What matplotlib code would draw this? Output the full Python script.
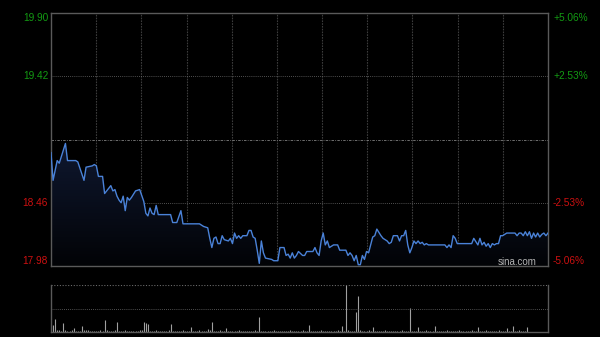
import numpy as np
import matplotlib
matplotlib.use("Agg")
import matplotlib.pyplot as plt
from matplotlib.colors import LinearSegmentedColormap

plt.rcParams['font.family'] = ['Liberation Sans', 'DejaVu Sans']

# 分时价格 (分钟序号, 价格)
minutes = [0, 1, 3, 4, 7, 8, 12, 13, 16, 17, 20, 21, 22, 23, 25, 26, 28, 29, 30, 31,
           32, 33, 34, 35, 36, 37, 38, 39, 41, 43, 45, 46, 47, 48, 49, 50, 51, 52, 58, 59,
           61, 63, 64, 72, 74, 76, 77, 78, 79, 80, 81, 82, 83, 84, 86, 87, 88, 89, 90, 91,
           92, 93, 95, 96, 97, 98, 99, 100, 101, 102, 103, 104, 107, 108, 110, 111, 113, 114, 115, 116,
           117, 118, 119, 120, 122, 123, 124, 127, 128, 129, 130, 131, 132, 133, 134, 135, 136, 137, 139, 140,
           143, 144, 145, 146, 147, 148, 149, 150, 151, 152, 153, 154, 155, 156, 157, 158, 160, 161, 163, 164,
           165, 166, 168, 169, 170, 171, 172, 173, 174, 175, 176, 177, 178, 179, 180, 181, 182, 183, 191, 192,
           193, 194, 195, 196, 197, 204, 205, 207, 208, 209, 210, 211, 212, 213, 214, 215, 216, 217, 218, 219,
           221, 225, 226, 227, 228, 229, 230, 231, 232, 233, 234, 235, 236, 237, 238, 239, 240, 241]
prices = [18.84, 18.63, 18.78, 18.76, 18.91, 18.78, 18.78, 18.77, 18.63, 18.73, 18.74, 18.75, 18.74, 18.66, 18.66, 18.53, 18.57, 18.59, 18.55, 18.56,
          18.51, 18.48, 18.46, 18.51, 18.40, 18.50, 18.48, 18.50, 18.55, 18.56, 18.47, 18.38, 18.36, 18.42, 18.38, 18.37, 18.44, 18.37, 18.37, 18.31,
          18.31, 18.40, 18.30, 18.30, 18.28, 18.27, 18.19, 18.12, 18.19, 18.20, 18.15, 18.15, 18.21, 18.18, 18.17, 18.19, 18.15, 18.23, 18.19, 18.21,
          18.19, 18.21, 18.21, 18.25, 18.25, 18.20, 18.19, 18.10, 18.00, 18.17, 18.08, 18.04, 18.03, 18.02, 18.02, 18.12, 18.12, 18.06, 18.07, 18.04,
          18.08, 18.04, 18.06, 18.09, 18.06, 18.06, 18.09, 18.09, 18.12, 18.08, 18.06, 18.17, 18.23, 18.14, 18.17, 18.12, 18.13, 18.14, 18.14, 18.10,
          18.10, 18.06, 18.08, 18.06, 18.02, 18.06, 17.99, 17.99, 18.06, 18.03, 18.09, 18.08, 18.14, 18.20, 18.21, 18.26, 18.21, 18.19, 18.17, 18.15,
          18.16, 18.21, 18.21, 18.17, 18.21, 18.21, 18.25, 18.14, 18.08, 18.12, 18.17, 18.15, 18.17, 18.15, 18.16, 18.14, 18.15, 18.14, 18.14, 18.12,
          18.14, 18.12, 18.21, 18.19, 18.15, 18.15, 18.19, 18.14, 18.19, 18.14, 18.16, 18.13, 18.15, 18.12, 18.15, 18.14, 18.15, 18.15, 18.21, 18.21,
          18.23, 18.23, 18.21, 18.23, 18.23, 18.21, 18.24, 18.21, 18.24, 18.19, 18.23, 18.20, 18.23, 18.20, 18.22, 18.23, 18.21, 18.23]

prev_close = 18.94
price_ticks = [17.98, 18.46, 19.42, 19.90]
price_labels = ['17.98', '18.46', '19.42', '19.90']
pct_labels = ['-5.06%', '-2.53%', '+2.53%', '+5.06%']
label_colors = ['#cc1010', '#cc1010', '#139a13', '#139a13']

# 成交量 (每分钟)
volume = [15, 14, 28, 5, 4, 3, 19, 4, 3, 3, 4, 8, 3, 2, 3, 13, 4, 5, 4, 3,
          2, 3, 2, 3, 4, 3, 26, 4, 3, 2, 3, 4, 21, 3, 2, 3, 4, 3, 2, 3,
          3, 2, 3, 4, 5, 21, 19, 17, 3, 2, 3, 4, 3, 2, 3, 2, 3, 4, 17, 3,
          2, 3, 2, 3, 4, 3, 2, 3, 11, 3, 2, 3, 4, 3, 2, 3, 6, 4, 22, 3,
          2, 3, 4, 3, 2, 9, 3, 2, 3, 2, 3, 4, 3, 2, 3, 2, 3, 2, 3, 4,
          3, 32, 3, 2, 3, 2, 3, 2, 4, 3, 2, 3, 2, 3, 2, 3, 4, 3, 2, 3,
          2, 3, 4, 3, 2, 15, 3, 2, 3, 2, 3, 4, 3, 2, 3, 2, 3, 2, 3, 4,
          3, 13, 3, 100, 4, 3, 2, 3, 43, 77, 4, 3, 2, 3, 4, 3, 11, 3, 2, 3,
          2, 3, 4, 3, 2, 3, 2, 3, 2, 3, 4, 3, 2, 3, 51, 3, 2, 3, 11, 3,
          2, 3, 4, 3, 2, 3, 13, 3, 2, 3, 2, 3, 4, 3, 2, 3, 2, 3, 4, 3,
          2, 3, 2, 3, 4, 3, 2, 11, 3, 2, 3, 4, 3, 2, 3, 2, 3, 4, 3, 2,
          3, 9, 2, 3, 13, 3, 2, 4, 3, 2, 3, 10]

bg = '#000000'
spine_c = '#5a5a5a'
grid_c = '#3c3c3c'

fig = plt.figure(figsize=(6, 3.37), dpi=100, facecolor=bg)
ax = fig.add_axes([51 / 600, 1 - 266 / 337, 497 / 600, 253 / 337], facecolor=bg)
axv = fig.add_axes([51 / 600, 1 - 332 / 337, 497 / 600, 47 / 337], facecolor=bg)

lo, hi = price_ticks[0], price_ticks[-1]
ax.set_xlim(0, 241)
ax.set_ylim(lo, hi)

# 渐变填充
cmap = LinearSegmentedColormap.from_list('fill', ['#020306', '#0f1830'])
grad = np.linspace(0, 1, 256).reshape(-1, 1)
img = ax.imshow(grad, extent=[0, 241, lo, max(prices)], origin='lower',
                aspect='auto', cmap=cmap, zorder=1)
poly = ax.fill_between(minutes, prices, lo, facecolor='none', edgecolor='none')
img.set_clip_path(poly.get_paths()[0], transform=ax.transData)
ax.set_xlim(0, 241)
ax.set_ylim(lo, hi)

ax.plot(minutes, prices, color='#4a82d8', lw=1.0, zorder=3)

# 网格
for xv in np.linspace(0, 241, 12)[1:-1]:
    ax.axvline(xv, color=grid_c, lw=0.8, ls=(0, (1.5, 1)), zorder=0)
for yv in [18.46, 19.42]:
    ax.axhline(yv, color='#6a6a6a', lw=0.6, ls=(0, (1, 1.5)), zorder=0)
ax.axhline(prev_close, color='#808080', lw=0.6, ls=(0, (3, 1.5, 1, 1.5)), zorder=0)

for s in ax.spines.values():
    s.set_color(spine_c)
    s.set_linewidth(1)
ax.set_xticks([])
ax.set_yticks([])

ytr = ax.get_yaxis_transform()
for p, lab, pct, c in zip(price_ticks, price_labels, pct_labels, label_colors):
    va = 'center'
    if p == hi:
        va = 'top'
    elif p == lo:
        va = 'bottom'
    ax.text(-0.006, p, lab, transform=ytr, ha='right', va=va, color=c, fontsize=7.3)
    ax.text(1.01, p, pct, transform=ytr, ha='left', va=va, color=c, fontsize=7.3)

ax.text(0.978, 0.016, 'sina.com', transform=ax.transAxes, ha='right', va='center',
        color='#b4b4b4', fontsize=7, zorder=5)

# 成交量
axv.set_xlim(0, 241)
axv.set_ylim(0, max(volume))
axv.vlines(range(len(volume)), 0, volume, color='#a0a0a0', lw=0.8)
axv.axhline(max(volume), color='#6a6a6a', lw=0.8, ls=(0, (1, 1.5)))
axv.axhline(max(volume) / 2, color='#6a6a6a', lw=0.6, ls=(0, (1, 1.5)))
for k, s in axv.spines.items():
    s.set_color(spine_c)
    s.set_linewidth(1)
axv.spines['top'].set_visible(False)
axv.set_xticks([])
axv.set_yticks([])

fig.savefig('out.png', dpi=100, facecolor=bg)
